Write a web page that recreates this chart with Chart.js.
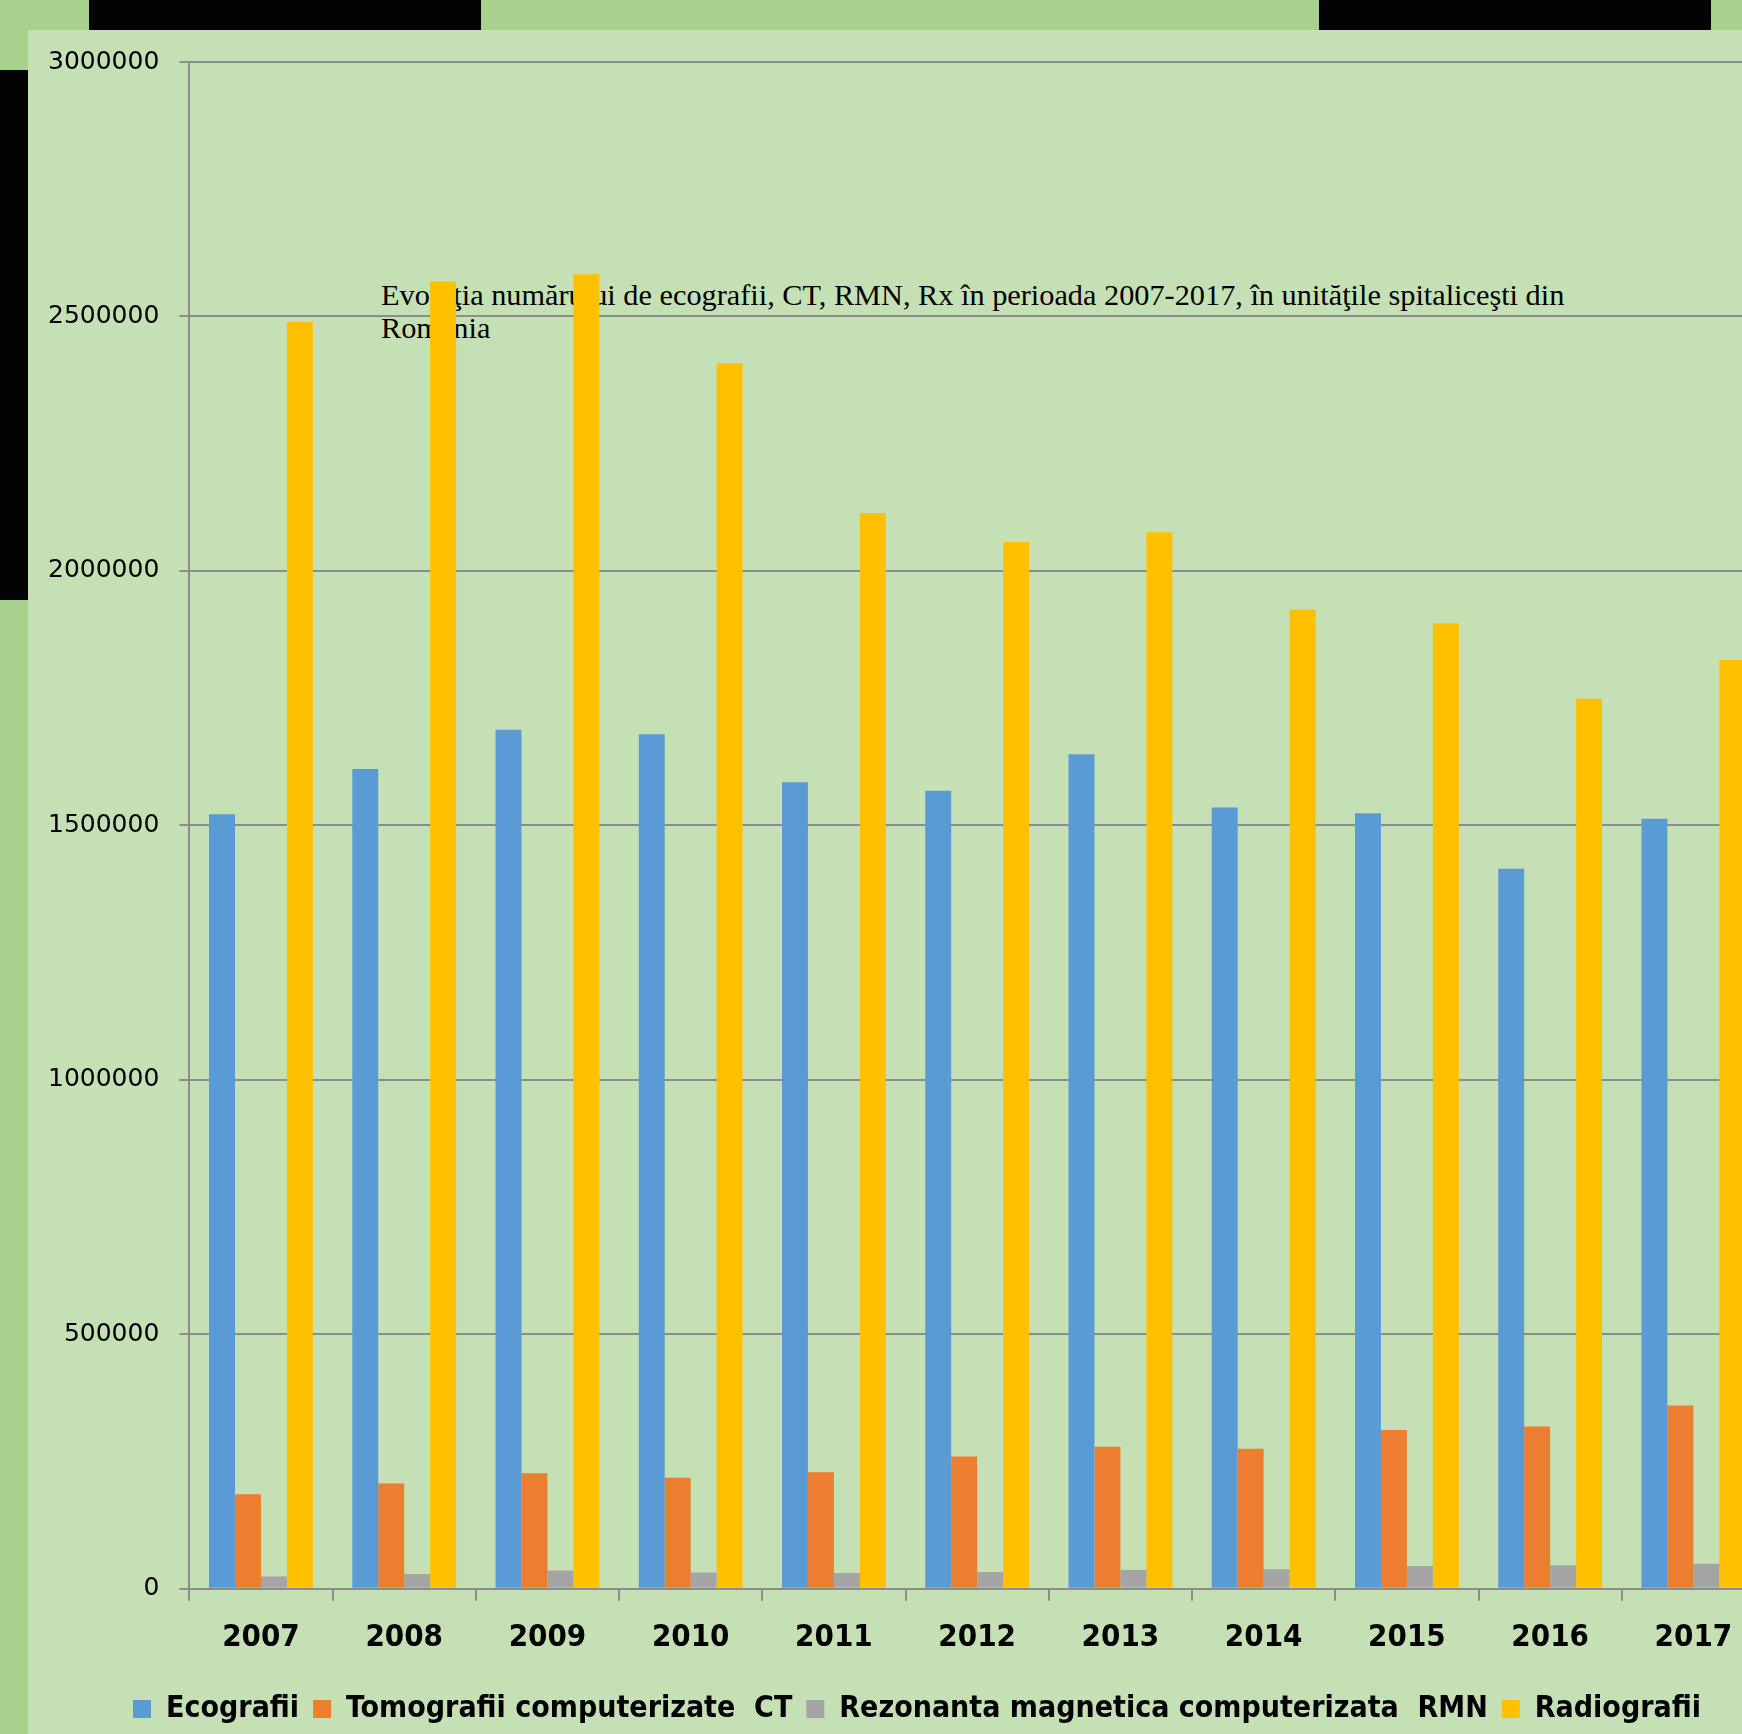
<!DOCTYPE html>
<html>
<head>
<meta charset="utf-8">
<script src="https://cdn.jsdelivr.net/npm/chart.js@4.4.1/dist/chart.umd.min.js"></script>
<style>
    body { margin: 0; width: 1742px; height: 1734px; overflow: hidden; background: #a9d18e; position: relative; }
    .blk { position: absolute; background: #030303; }
    #panel { position: absolute; left: 28px; top: 30px; width: 1778px; height: 1704px; background: #c5e0b4; }
    #title {
        position: absolute; left: 353px; top: 249px; width: 1300px;
        font-family: 'Liberation Serif', 'Times New Roman', serif; font-size: 30.3px; line-height: 33px; color: #000;
    }
    #wrap { position: absolute; left: 0; top: 0; width: 1778px; height: 1704px; }
</style>
</head>
<body>
<div class="blk" style="left:89px;top:0;width:392px;height:30px"></div>
<div class="blk" style="left:1319px;top:0;width:392px;height:30px"></div>
<div class="blk" style="left:0;top:70px;width:28px;height:530px"></div>
<div id="panel">
    <div id="title">Evoluţia numărului de ecografii, CT, RMN, Rx în perioada 2007-2017, în unităţile spitaliceşti din<br>România</div>
    <div id="wrap"><canvas id="chart"></canvas></div>
</div>
<script>
// ===============================================
// Data
// ===============================================
const years = ['2007', '2008', '2009', '2010', '2011', '2012', '2013', '2014', '2015', '2016', '2017'];
const ecografii = [1522000, 1611000, 1688000, 1679000, 1585000, 1568000, 1640000, 1535000, 1524000, 1415000, 1513000];
const tomografii = [186000, 207000, 227000, 218000, 229000, 260000, 279000, 275000, 312000, 319000, 360000];
const rezonanta = [24000, 29000, 36000, 32000, 31000, 33000, 37000, 38500, 45000, 46500, 49000];
const radiografii = [2489000, 2568000, 2583000, 2408000, 2114000, 2057000, 2076000, 1924000, 1897000, 1749000, 1825000];
const yTicks = [0, 500000, 1000000, 1500000, 2000000, 2500000, 3000000];

const boldFont = "'Liberation Sans Narrow', 'DejaVu Sans Condensed', 'Roboto Condensed', sans-serif";
const gridColor = '#8c8c8c';

new Chart(document.getElementById('chart'), {
    type: 'bar',
    data: {
        labels: years,
        datasets: [
            { label: 'Ecografii', data: ecografii, backgroundColor: '#5b9bd5' },
            { label: 'Tomografii computerizate  CT', data: tomografii, backgroundColor: '#ed7d31' },
            { label: 'Rezonanta magnetica computerizata  RMN', data: rezonanta, backgroundColor: '#a5a5a5' },
            { label: 'Radiografii', data: radiografii, backgroundColor: '#ffc000' }
        ]
    },
    options: {
        responsive: true,
        maintainAspectRatio: false,
        animation: false,
        categoryPercentage: 0.725,
        barPercentage: 1,
        borderWidth: 0,
        layout: { padding: { left: 0, right: 0, top: 32, bottom: 0 } },
        plugins: {
            tooltip: { enabled: false },
            legend: {
                position: 'bottom',
                labels: {
                    boxWidth: 18,
                    boxHeight: 18,
                    padding: 14,
                    color: '#000',
                    font: { family: boldFont, size: 30, weight: 'bold' }
                }
            }
        },
        scales: {
            x: {
                grid: { drawOnChartArea: false, color: gridColor, lineWidth: 2, tickLength: 12 },
                border: { color: gridColor, width: 2 },
                ticks: { color: '#000', padding: 19, font: { family: boldFont, size: 31, weight: 'bold' } },
                afterFit: axis => { axis.height += 4; }
            },
            y: {
                min: 0,
                max: 3000000,
                afterBuildTicks: axis => { axis.ticks = yTicks.map(v => ({ value: v })); },
                afterFit: axis => { axis.paddingTop = 0; },
                grid: { color: gridColor, lineWidth: 2, tickLength: 10 },
                border: { color: gridColor, width: 2 },
                ticks: {
                    color: '#000',
                    padding: 20,
                    font: { family: 'DejaVu Sans', size: 25 },
                    callback: v => String(v)
                }
            },
            // empty space on the right, so the legend stays centred on the whole panel
            spacer: {
                position: 'right',
                grid: { display: false },
                border: { display: false },
                ticks: { display: false },
                afterFit: axis => { axis.width = 41; }
            }
        }
    }
});
</script>
</body>
</html>
